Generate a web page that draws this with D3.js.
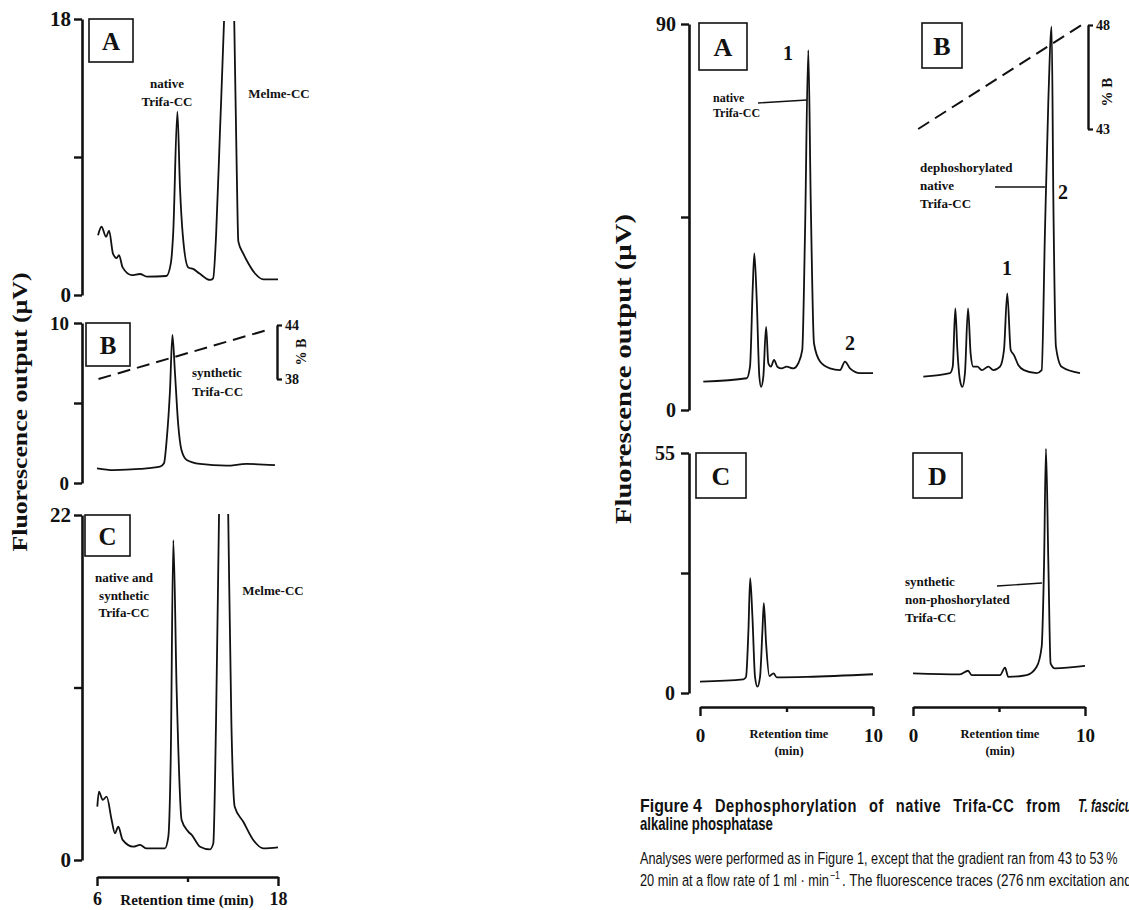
<!DOCTYPE html>
<html>
<head>
<meta charset="utf-8">
<script src="https://cdn.jsdelivr.net/npm/d3@7/dist/d3.min.js"></script>
<style>
  body { margin: 0; background: #fff; }
  svg text { font-family: "Liberation Serif", "DejaVu Serif", serif; font-weight: bold; fill: #111; }
  svg text.cap { font-family: "Liberation Sans Narrow", "Liberation Sans", "Roboto", sans-serif; }
  svg text.reg { font-weight: normal; }
</style>
</head>
<body>
<svg id="fig" width="1129" height="910"></svg>
<script>
// ---- data ----
var leftTimeTicks = [6, 12, 18];
var rightTimeTicks = [0, 5, 10];
var leftATicks = [0, 9, 18];
var leftBTicks = [0, 5, 10];
var leftCTicks = [0, 11, 22];
var rightABTicks = [0, 45, 90];
var rightCDTicks = [0, 27.5, 55];

// [retention time (min), fluorescence (µV)]
var traceLeftA = [[6.07,3.9],[6.3,4.45],[6.6,3.8],[6.8,4.2],[7.06,2.7],[7.3,2.4],[7.46,2.6],[7.7,1.8],[8.3,1.3],[8.85,1.37],[9.3,1.2],[10.6,1.24],[10.9,2.1],[11.05,4.0],[11.33,11.95],[11.5,7.06],[11.68,4.0],[12.05,1.8],[12.37,1.7],[12.8,1.4],[13.5,0.98],[13.7,1.09],[13.9,4.0],[14.15,10.6],[14.42,17.8],[14.76,30],[15.1,17.8],[15.26,8.4],[15.37,3.5],[15.7,2.7],[16.03,2.07],[16.48,1.4],[17.03,1.02],[18.0,1.02]];
var traceLeftB = [[6.0,0.92],[7.08,0.81],[8.85,0.88],[10.18,1.02],[10.44,1.23],[10.62,2.7],[10.84,5.8],[11.0,9.25],[11.17,6.86],[11.38,3.7],[11.6,2.06],[11.95,1.44],[12.83,1.19],[14.6,1.08],[15.9,1.19],[17.8,1.12]];
var traceLeftC = [[6.02,3.4],[6.13,4.36],[6.38,3.83],[6.64,4.04],[6.97,2.55],[7.19,1.7],[7.41,2.12],[7.7,1.28],[8.4,0.85],[8.85,0.96],[9.29,0.74],[10.5,0.74],[10.73,1.49],[10.89,6.59],[11.06,20.4],[11.28,10.84],[11.61,2.55],[12.05,1.81],[12.28,1.6],[12.83,0.85],[13.49,0.68],[13.71,1.06],[13.89,8.72],[14.09,22],[14.4,41],[14.7,22],[14.91,8.72],[15.13,3.4],[15.7,2.44],[16.36,1.28],[17.03,0.74],[18.0,0.8]];
var traceRightA = [[0.19,6.6],[2.7,7.4],[2.89,10.1],[3.05,28.7],[3.14,36.5],[3.28,25.6],[3.43,7.8],[3.53,5.4],[3.66,7.8],[3.82,19.4],[3.95,10.9],[4.1,10.1],[4.28,11.7],[4.47,10.1],[4.72,9.7],[5.01,10.1],[5.4,9.7],[5.68,10.9],[5.91,14.0],[6.07,41.2],[6.26,83.9],[6.4,49],[6.59,15.5],[6.94,11.3],[7.51,9.7],[8.09,9.3],[8.38,11.3],[8.67,9.7],[9.25,8.6],[10.0,8.6]];
var traceRightB = [[0.6,7.8],[2.15,8.6],[2.31,10.1],[2.46,23.7],[2.58,14],[2.73,7.0],[2.87,5.4],[3.02,8.6],[3.2,23.7],[3.35,13.2],[3.5,10.1],[3.74,10.1],[4.0,9.3],[4.38,10.1],[4.67,9.3],[5.06,10.1],[5.29,14],[5.48,27.2],[5.68,14],[5.87,12.8],[6.12,10.5],[6.45,9.3],[7.19,8.6],[7.48,9.3],[7.67,41.2],[7.87,72.3],[8.06,89.4],[8.16,49],[8.31,14.8],[8.64,10.1],[9.71,8.6]];
var traceRightC = [[0,2.6],[2.51,3.1],[2.66,3.7],[2.8,14.4],[2.9,26.3],[3.03,17.5],[3.18,3.7],[3.32,1.45],[3.47,3.7],[3.61,14.4],[3.69,20.6],[3.82,11.4],[4.01,3.9],[4.25,4.5],[4.44,3.6],[6.18,3.7],[10,4.3]];
var traceRightD = [[0,4.5],[2.73,4.28],[3.2,5.1],[3.41,4.1],[5.06,4.1],[5.35,5.8],[5.54,3.7],[6.61,4.1],[7.19,6.0],[7.48,10.6],[7.62,29.7],[7.73,56],[7.87,29.7],[8.0,6.8],[8.25,5.65],[10,6.2]];

// gradient (% B) lines
var pctLeftB = [38, 44];
var gradLeftB = [[6.1, 38.0], [17.4, 43.5]];
var pctRightB = [43, 48];
var gradRightB = [[0.3, 43.0], [9.8, 48.0]];

var yTitle = "Fluorescence output (\u00b5V)";
var captionBold = ["Figure 4", "Dephosphorylation of native Trifa-CC from", "T. fascicularis by", "alkaline phosphatase"];
var captionText = ["Analyses were performed as in Figure 1, except that the gradient ran from 43 to 53\u2009%",
                   "20 min at a flow rate of 1 ml \u00b7 min", "\u22121", ". The fluorescence traces (276\u2009nm excitation and"];

// ---- drawing ----
var svg = d3.select("#fig");
var defs = svg.append("defs");

var xLeft = d3.scaleLinear().domain([6, 18]).range([97, 278]);
var xRightL = d3.scaleLinear().domain([0, 10]).range([700, 873]);
var xRightR = d3.scaleLinear().domain([0, 10]).range([913, 1085]);

var yLeftA = d3.scaleLinear().domain([0, 18]).range([295, 19]);
var yLeftB = d3.scaleLinear().domain([0, 10]).range([483, 323]);
var yLeftC = d3.scaleLinear().domain([0, 22]).range([860, 515]);
var yRightAB = d3.scaleLinear().domain([0, 90]).range([410, 24]);
var yRightCD = d3.scaleLinear().domain([0, 55]).range([693, 453]);

var pScaleLeft = d3.scaleLinear().domain(pctLeftB).range([379, 325]);
var pScaleRight = d3.scaleLinear().domain(pctRightB).range([129, 25]);

drawTrace = function(data, x, y, clipTop){
  var line = d3.line()
    .x(function(d){ return x(d[0]); })
    .y(function(d){ return y(d[1]); })
    .curve(d3.curveMonotoneX);
  var p = svg.append("path")
    .datum(data)
    .attr("d", line)
    .attr("fill", "none")
    .attr("stroke", "#111")
    .attr("stroke-width", 1.8)
    .attr("stroke-linejoin", "round");
  if(clipTop !== undefined){
    var id = "clip" + Math.round(clipTop);
    defs.append("clipPath").attr("id", id)
      .append("rect").attr("x", 0).attr("y", clipTop).attr("width", 1129).attr("height", 910 - clipTop);
    p.attr("clip-path", "url(#" + id + ")");
  }
};

yAxis = function(y, ticks, xPos, fontSize, pad){
  var mid = ticks[1];
  var g = svg.append("g")
    .attr("transform", "translate(" + xPos + ",0)")
    .call(d3.axisLeft(y).tickValues(ticks).tickSize(8).tickSizeOuter(0).tickPadding(pad)
      .tickFormat(function(d){ return d === mid ? "" : d; }));
  g.select(".domain").attr("stroke", "#111").attr("stroke-width", 2.6);
  g.selectAll(".tick line").attr("stroke", "#111").attr("stroke-width", 2.4);
  g.selectAll(".tick text").attr("font-size", fontSize).attr("fill", "#111");
  g.attr("font-family", null);
  return g;
};

xAxis = function(x, ticks, yPos, fontSize, pad){
  var mid = ticks[1];
  var g = svg.append("g")
    .attr("transform", "translate(0," + yPos + ")")
    .call(d3.axisBottom(x).tickValues(ticks).tickSize(9).tickSizeOuter(0).tickPadding(pad)
      .tickFormat(function(d){ return d === mid ? "" : d; }));
  g.select(".domain").attr("stroke", "#111").attr("stroke-width", 2.6);
  g.selectAll(".tick line").attr("stroke", "#111").attr("stroke-width", 2.4)
    .attr("y2", function(d){ return d === mid ? 5 : 9; });
  g.selectAll(".tick text").attr("font-size", fontSize).attr("fill", "#111");
  g.attr("font-family", null);
  return g;
};

pctAxis = function(scale, ticks, xPos){
  var g = svg.append("g")
    .attr("transform", "translate(" + xPos + ",0)")
    .call(d3.axisRight(scale).tickValues(ticks).tickSize(5).tickSizeOuter(0).tickPadding(3)
      .tickFormat(d3.format("d")));
  g.select(".domain").attr("stroke", "#111").attr("stroke-width", 2.4);
  g.selectAll(".tick line").attr("stroke", "#111").attr("stroke-width", 2.2);
  g.selectAll(".tick text").attr("font-size", 14).attr("fill", "#111");
  g.attr("font-family", null);
  return g;
};

panelBox = function(x, y, w, h, letter, size){
  svg.append("rect").attr("x", x).attr("y", y).attr("width", w).attr("height", h)
    .attr("fill", "#fff").attr("stroke", "#111").attr("stroke-width", 1.6);
  svg.append("text").attr("x", x + w / 2).attr("y", y + h / 2).attr("dy", "0.36em")
    .attr("text-anchor", "middle").attr("font-size", size).text(letter);
};

label = function(lines, x, y, size, anchor, gap){
  var t = svg.append("text").attr("font-size", size).attr("text-anchor", anchor || "middle");
  lines.forEach(function(s, i){
    t.append("tspan").attr("x", x).attr("y", y + i * (gap || size * 1.35)).text(s);
  });
  return t;
};

leader = function(x1, y1, x2, y2){
  svg.append("line").attr("x1", x1).attr("y1", y1).attr("x2", x2).attr("y2", y2)
    .attr("stroke", "#111").attr("stroke-width", 1.3);
};

gradient = function(data, x, scale){
  svg.append("path").datum(data)
    .attr("d", d3.line().x(function(d){ return x(d[0]); }).y(function(d){ return scale(d[1]); }))
    .attr("fill", "none").attr("stroke", "#111").attr("stroke-width", 2)
    .attr("stroke-dasharray", "13,7");
};

// caption text squeezed horizontally to the width it has in the figure
capText = function(s, x, y, size, width, cls, style){
  var t = svg.append("text").attr("class", cls || "cap").attr("x", 0).attr("y", 0)
    .attr("font-size", size).text(s);
  if(style) style(t);
  var w = t.node().getComputedTextLength();
  t.attr("transform", "translate(" + x + "," + y + ") scale(" + (width / w) + ",1)");
  return t;
};

// ===== left figure =====
yAxis(yLeftA, leftATicks, 82, 21, 3);
yAxis(yLeftB, leftBTicks, 82, 19, 5);
yAxis(yLeftC, leftCTicks, 82, 21, 3);

drawTrace(traceLeftA, xLeft, yLeftA, 21);
gradient(gradLeftB, xLeft, pScaleLeft);
drawTrace(traceLeftB, xLeft, yLeftB);
drawTrace(traceLeftC, xLeft, yLeftC, 514);

panelBox(89, 19, 44, 43, "A", 25);
panelBox(86, 323, 44, 43, "B", 25);
panelBox(85, 515, 45, 41, "C", 25);

label(["native", "Trifa-CC"], 167, 88, 13, "middle", 18);
label(["Melme-CC"], 279, 98, 13, "middle");
label(["synthetic", "Trifa-CC"], 192, 377, 13, "start", 19);
label(["native and", "synthetic", "Trifa-CC"], 124, 582, 13, "middle", 17.5);
label(["Melme-CC"], 273, 595, 13, "middle");

pctAxis(pScaleLeft, pctLeftB, 277);
svg.append("text").attr("transform", "translate(301,352) rotate(-90)")
  .attr("text-anchor", "middle").attr("dy", "0.35em").attr("font-size", 14).text("% B");

xAxis(xLeft, leftTimeTicks, 877, 18, 6);
svg.append("text").attr("x", 187).attr("y", 905).attr("text-anchor", "middle")
  .attr("font-size", 15).text("Retention time (min)");

svg.append("text").attr("transform", "translate(27,412) rotate(-90)")
  .attr("text-anchor", "middle").attr("font-size", 21)
  .attr("textLength", 279).attr("lengthAdjust", "spacingAndGlyphs").text(yTitle);

// ===== right figure =====
yAxis(yRightAB, rightABTicks, 689, 20, 5);
yAxis(yRightCD, rightCDTicks, 689, 20, 6);

gradient(gradRightB, xRightR, pScaleRight);
drawTrace(traceRightA, xRightL, yRightAB);
drawTrace(traceRightB, xRightR, yRightAB);
drawTrace(traceRightC, xRightL, yRightCD);
drawTrace(traceRightD, xRightR, yRightCD);

panelBox(699, 23, 48, 47, "A", 26);
panelBox(922, 23, 40, 45, "B", 26);
panelBox(696, 453, 50, 45, "C", 26);
panelBox(913, 453, 49, 45, "D", 26);

label(["1"], 788, 60, 20);
label(["native", "Trifa-CC"], 713, 102, 12, "start", 15);
leader(758, 103, 807, 100);
label(["2"], 850, 350, 20);

label(["dephoshorylated", "native", "Trifa-CC"], 920, 172, 13, "start", 18);
leader(995, 187, 1045, 187);
label(["2"], 1063, 199, 20);
label(["1"], 1007, 275, 20);

label(["synthetic", "non-phoshorylated", "Trifa-CC"], 905, 586, 13, "start", 18);
leader(997, 586, 1042, 583);

pctAxis(pScaleRight, pctRightB, 1088);
svg.append("text").attr("transform", "translate(1107,92) rotate(-90)")
  .attr("text-anchor", "middle").attr("dy", "0.35em").attr("font-size", 15).text("% B");

xAxis(xRightL, rightTimeTicks, 707, 19, 13);
xAxis(xRightR, rightTimeTicks, 707, 19, 13);
label(["Retention time", "(min)"], 789, 738, 12.5, "middle", 17);
label(["Retention time", "(min)"], 1000, 738, 12.5, "middle", 17);

svg.append("text").attr("transform", "translate(631,369) rotate(-90)")
  .attr("text-anchor", "middle").attr("font-size", 23)
  .attr("textLength", 310).attr("lengthAdjust", "spacingAndGlyphs").text(yTitle);

// ===== caption =====
capText(captionBold[0], 640, 812, 17.5, 62);
capText(captionBold[1], 715, 812, 17.5, 346, "cap", function(t){
  t.attr("word-spacing", 9).attr("letter-spacing", 0.6);
});
capText(captionBold[2], 1078, 812, 17.5, 96, "cap", function(t){
  t.attr("font-style", "italic");
});
capText(captionBold[3], 640, 830, 17.5, 133);

capText(captionText[0], 640, 864, 16.5, 478, "cap reg");
capText(captionText[1], 640, 886, 16.5, 189, "cap reg");
capText(captionText[2], 830, 879, 11, 10, "cap reg");
capText(captionText[3], 842, 886, 16.5, 290, "cap reg");
</script>
</body>
</html>
